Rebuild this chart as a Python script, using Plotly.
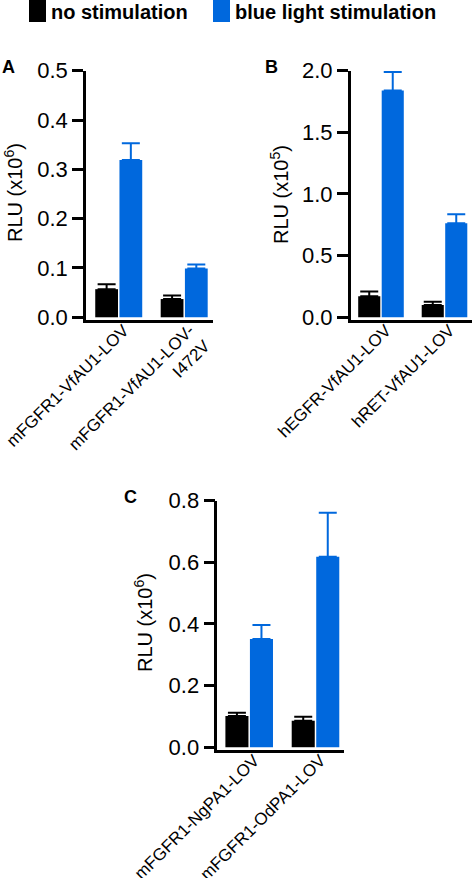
import plotly.graph_objects as go

W, H = 472, 878

series_names = ["no stimulation", "blue light stimulation"]
series_colors = ["#000000", "#0068DD"]

cats_A = ["mFGFR1-VfAU1-LOV", "mFGFR1-VfAU1-LOV-<br>I472V"]
no_stim_A = [0.057, 0.037]
no_stim_err_A = [0.010, 0.007]
blue_A = [0.319, 0.099]
blue_err_A = [0.034, 0.008]

cats_B = ["hEGFR-VfAU1-LOV", "hRET-VfAU1-LOV"]
no_stim_B = [0.17, 0.10]
no_stim_err_B = [0.04, 0.027]
blue_B = [1.84, 0.763]
blue_err_B = [0.15, 0.073]

cats_C = ["mFGFR1-NgPA1-LOV", "mFGFR1-OdPA1-LOV"]
no_stim_C = [0.101, 0.086]
no_stim_err_C = [0.011, 0.013]
blue_C = [0.351, 0.618]
blue_err_C = [0.046, 0.143]

yticks_A = [0.0, 0.1, 0.2, 0.3, 0.4, 0.5]
yticks_B = [0.0, 0.5, 1.0, 1.5, 2.0]
yticks_C = [0.0, 0.2, 0.4, 0.6, 0.8]

FONT = "Liberation Sans, Arial, sans-serif"

fig = go.Figure()

panels = [
    ("x", "y", cats_A, [no_stim_A, blue_A], [no_stim_err_A, blue_err_A]),
    ("x2", "y2", cats_B, [no_stim_B, blue_B], [no_stim_err_B, blue_err_B]),
    ("x3", "y3", cats_C, [no_stim_C, blue_C], [no_stim_err_C, blue_err_C]),
]
for xa, ya, cats, vals, errs in panels:
    for name, col, v, e in zip(series_names, series_colors, vals, errs):
        fig.add_trace(go.Bar(
            x=cats, y=v, name=name, xaxis=xa, yaxis=ya,
            marker=dict(color=col, line=dict(width=0)),
            error_y=dict(type="data", array=e, arrayminus=[0] * len(e),
                         symmetric=False, color=col, thickness=2, width=9),
            showlegend=False,
        ))


def px_x(p):
    return p / W


def px_y(p):
    return 1 - p / H


def xaxis(domain, rng):
    return dict(domain=domain, range=rng, showline=True, linewidth=2.5,
                linecolor="black", ticks="", tickangle=-45, showgrid=False,
                zeroline=False, automargin=False,
                ticklabelstandoff=-9, ticklabelshift=5,
                tickfont=dict(family=FONT, size=17, color="black"))


def yaxis(domain, rng, tv):
    return dict(domain=domain, range=rng, showline=True, linewidth=2.5,
                linecolor="black", ticks="outside", ticklen=11, tickwidth=2.5,
                tickcolor="black", tickvals=tv, tickformat=".1f", showgrid=False,
                zeroline=False, automargin=False,
                tickfont=dict(family=FONT, size=22, color="black"))


fig.update_layout(
    width=W, height=H, margin=dict(l=0, r=0, t=0, b=0, autoexpand=False),
    paper_bgcolor="white", plot_bgcolor="white",
    barmode="group", bargap=0.26, bargroupgap=0.06,
    xaxis=xaxis([px_x(86), px_x(213)], [-0.5, 1.44]) | dict(anchor="y"),
    yaxis=yaxis([px_y(320), px_y(70.7)], [-0.0055, 0.5], yticks_A) | dict(anchor="x"),
    xaxis2=xaxis([px_x(350.7), 1.0], [-0.477, 1.433]) | dict(anchor="y2"),
    yaxis2=yaxis([px_y(320), px_y(70.7)], [-0.022, 2.0], yticks_B) | dict(anchor="x2"),
    xaxis3=xaxis([px_x(217.3), px_x(344)], [-0.481, 1.43]) | dict(anchor="y3"),
    yaxis3=yaxis([px_y(750), px_y(500.7)], [-0.009, 0.8], yticks_C) | dict(anchor="x3"),
)

ann = []
# panel letters
for letter, cx, cy in [("A", 8.5, 66.5), ("B", 271.5, 66.5), ("C", 130.5, 497)]:
    ann.append(dict(text="<b>%s</b>" % letter, x=px_x(cx), y=px_y(cy), xref="paper",
                    yref="paper", xanchor="center", yanchor="middle", showarrow=False,
                    font=dict(family=FONT, size=18, color="black")))
# y titles
for txt, cx, cy in [("RLU (x10<sup>6</sup>)", 14, 193), ("RLU (x10<sup>5</sup>)", 279, 195),
                    ("RLU (x10<sup>6</sup>)", 143, 623)]:
    ann.append(dict(text=txt, x=px_x(cx), y=px_y(cy), xref="paper", yref="paper",
                    xanchor="center", yanchor="middle", textangle=-90, showarrow=False,
                    font=dict(family=FONT, size=20, color="black")))
# legend
shapes = []
for name, col, x0, x1, tx in [(series_names[0], series_colors[0], 29, 46, 49),
                              (series_names[1], series_colors[1], 213, 230, 233)]:
    shapes.append(dict(type="rect", xref="paper", yref="paper", x0=px_x(x0), x1=px_x(x1),
                       y0=px_y(22), y1=px_y(0), fillcolor=col, line=dict(width=0)))
    ann.append(dict(text="<b>%s</b>" % name, x=px_x(tx), y=px_y(11.5), xref="paper",
                    yref="paper", xanchor="left", yanchor="middle", showarrow=False,
                    font=dict(family=FONT, size=20, color="black")))

fig.update_layout(annotations=ann, shapes=shapes)
fig.write_html("out.html", config={"displayModeBar": False},
               post_script="document.body.style.margin='0px';document.body.style.overflow='hidden';")
